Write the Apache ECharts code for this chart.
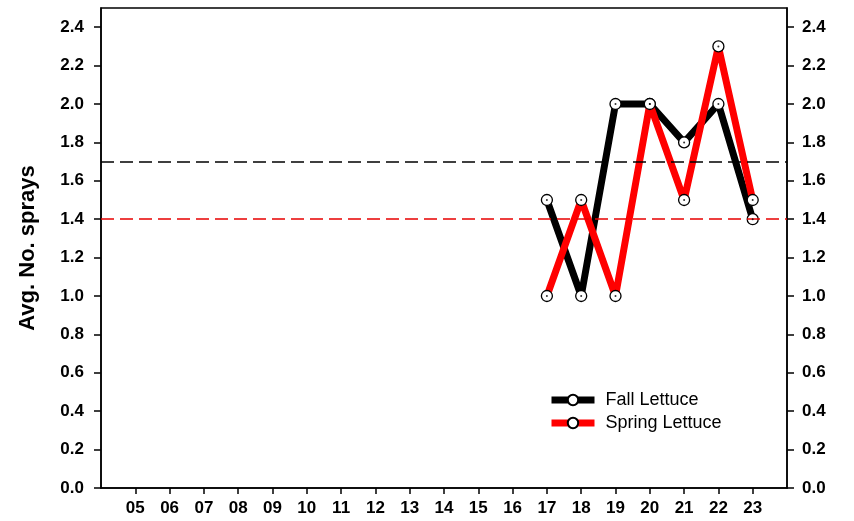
<!DOCTYPE html>
<html>
<head>
<meta charset="utf-8">
<script src="https://cdn.jsdelivr.net/npm/echarts@6/dist/echarts.min.js"></script>
<style>
  html, body { margin: 0; padding: 0; background: #fff; }
  #main { width: 854px; height: 521px; }
</style>
</head>
<body>
<div id="main"></div>
<script>
var years = ['04', '05', '06', '07', '08', '09', '10', '11', '12', '13', '14',
             '15', '16', '17', '18', '19', '20', '21', '22', '23', '24'];
var dataYears = ['17', '18', '19', '20', '21', '22', '23'];
var fall = [1.5, 1.0, 2.0, 2.0, 1.8, 2.0, 1.4];
var spring = [1.0, 1.5, 1.0, 2.0, 1.5, 2.3, 1.5];
var fallAvg = 1.7;
var springAvg = 1.4;
var yTicks = [0, 0.2, 0.4, 0.6, 0.8, 1.0, 1.2, 1.4, 1.6, 1.8, 2.0, 2.2, 2.4];

var dom = document.getElementById('main');
var chart = echarts.init(dom);

function pairs(vals) {
    return dataYears.map(function (y, i) { return [y, vals[i]]; });
}

var labelFont = {
    fontFamily: 'Liberation Sans, Arial, sans-serif',
    fontWeight: 'bold',
    fontSize: 17,
    color: '#000'
};

// hide the padding categories at each end
var inner = function (index) { return index > 0 && index < years.length - 1; };

function yAxis(pos) {
    return {
        type: 'value',
        position: pos,
        min: 0,
        max: 2.5,
        name: pos === 'left' ? 'Avg. No. sprays' : '',
        nameLocation: 'middle',
        nameGap: 62,
        nameTextStyle: {
            fontFamily: 'Liberation Sans, Arial, sans-serif',
            fontWeight: 'bold',
            fontSize: 22,
            color: '#000'
        },
        splitLine: { show: false },
        axisLine: { show: true, lineStyle: { color: '#000', width: 1.5 } },
        axisTick: { show: true, length: 7, customValues: yTicks, lineStyle: { color: '#000', width: 1.5 } },
        axisLabel: Object.assign({
            customValues: yTicks,
            margin: pos === 'left' ? 17 : 15,
            formatter: function (v) { return v.toFixed(1); }
        }, labelFont)
    };
}

chart.setOption({
    animation: false,
    grid: {
        left: 101, right: 67, top: 8, bottom: 33,
        show: true, borderColor: '#000', borderWidth: 1.5
    },
    legend: {
        orient: 'vertical',
        left: 548,
        top: 391,
        padding: 0,
        itemWidth: 43,
        itemHeight: 13,
        itemGap: 5,
        data: ['Fall Lettuce', 'Spring Lettuce'],
        lineStyle: { width: 7 },
        textStyle: { fontFamily: 'Liberation Sans, Arial, sans-serif', fontSize: 18, color: '#000', padding: [0, 0, 0, 6] }
    },
    xAxis: {
        type: 'category',
        data: years,
        boundaryGap: false,
        splitLine: { show: false },
        axisLine: { show: true, lineStyle: { color: '#000', width: 1.5 } },
        axisTick: { show: true, length: 6, interval: inner, lineStyle: { color: '#000', width: 1.5 } },
        axisLabel: Object.assign({ interval: inner, margin: 12 }, labelFont)
    },
    yAxis: [yAxis('left'), yAxis('right')],
    series: [
        {
            name: 'Fall Lettuce',
            type: 'line',
            data: pairs(fall),
            z: 2,
            symbol: 'circle',
            symbolSize: 11,
            lineStyle: { color: '#000', width: 7 },
            itemStyle: { color: '#fff', borderColor: '#000', borderWidth: 1.3 },
            markLine: {
                silent: true,
                symbol: 'none',
                label: { show: false },
                lineStyle: { color: '#000', type: [13, 6], width: 1.5 },
                data: [{ yAxis: fallAvg }]
            }
        },
        {
            name: 'Spring Lettuce',
            type: 'line',
            data: pairs(spring),
            z: 3,
            symbol: 'circle',
            symbolSize: 11,
            lineStyle: { color: '#ff0000', width: 7 },
            itemStyle: { color: '#fff', borderColor: '#000', borderWidth: 1.3 },
            markLine: {
                silent: true,
                symbol: 'none',
                label: { show: false },
                lineStyle: { color: '#e80000', type: [13, 6], width: 1.5 },
                data: [{ yAxis: springAvg }]
            }
        },
        {
            type: 'scatter',
            data: pairs(fall).concat(pairs(spring)),
            z: 5,
            symbolSize: 2,
            itemStyle: { color: '#000' },
            silent: true
        }
    ]
});
</script>
</body>
</html>
